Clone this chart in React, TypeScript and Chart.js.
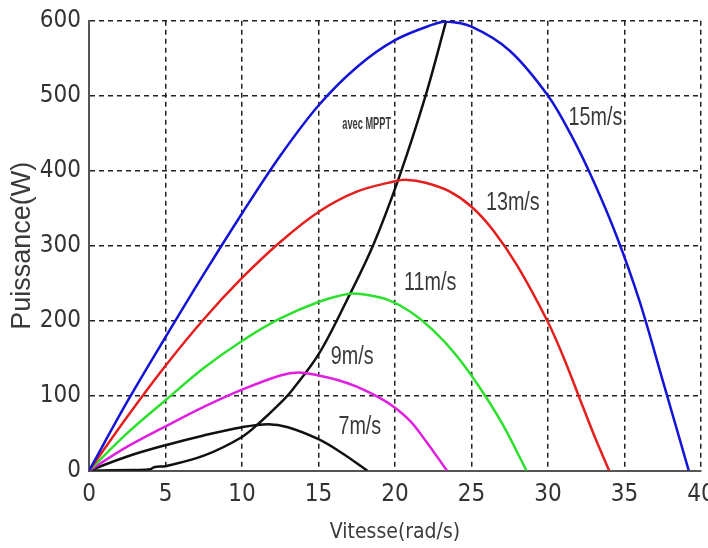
import React, { useEffect, useRef } from "react";
import { Chart, registerables } from "chart.js";

Chart.register(...registerables);

// ---- data ----
const speed15 = [0, 2.5, 5, 7.5, 10, 12.5, 15, 17.5, 20, 22.5, 23.35, 25, 27.5, 30, 31.5, 33, 34.5, 36, 37.5, 39.2];
const power15 = [0, 92, 178, 262, 343, 420, 487, 538, 574, 595, 599, 592, 560, 500, 448, 385, 312, 225, 120, 0];

const speed13 = [0, 2.5, 5, 7.5, 10, 12.5, 15, 17.5, 20, 20.7, 22, 23.5, 25, 26.4, 28, 30, 31, 32, 33, 34];
const power13 = [0, 72, 140, 202, 257, 305, 345, 372, 386, 388, 384, 373, 352, 321, 273, 198, 152, 100, 48, 0];

const speed11 = [0, 2.5, 5, 7.5, 10, 12.5, 15, 17, 18, 19.5, 21, 22.5, 24, 25.5, 27, 28.6];
const power11 = [0, 50, 94, 137, 173, 203, 225, 236, 235, 228, 212, 187, 154, 112, 63, 0];

const speed9 = [0, 2.5, 5, 7.5, 10, 12.5, 13.7, 15, 16.25, 17.5, 19, 20, 21, 22, 23.4];
const power9 = [0, 32, 59, 85, 108, 127, 131, 127, 121, 112, 97, 84, 66, 40, 0];

const speed7 = [0, 2.5, 5, 7.5, 10, 11.7, 13, 15, 16.5, 18.2];
const power7 = [0, 19, 34, 47, 58, 62, 58, 42, 24, 0];

const speedMppt = [0, 3, 4, 4.3, 5, 7.5, 10, 11.2, 12.5, 13.3, 15, 16.8, 18.6, 20.3, 22, 23.35];
const powerMppt = [0, 1, 2, 5, 6, 20, 45, 65, 90, 108, 155, 225, 302, 393, 500, 600];

const curveLabels = ["15m/s", "13m/s", "11m/s", "9m/s", "7m/s", "avec MPPT"];
const labelX = [33.1, 27.7, 22.3, 17.2, 17.7, 18.15];
const labelY = [470, 357, 250, 152, 58, 461];

const NARROW = '"Liberation Sans Narrow", "Arial Narrow", "DejaVu Sans Condensed", "Liberation Sans", sans-serif';
const SANS = '"Liberation Sans", Arial, Helvetica, sans-serif';

const pts = (xs: number[], ys: number[]) => xs.map((x, i) => ({ x, y: ys[i] }));

const labelPlugin = {
  id: "curveLabels",
  afterDatasetsDraw(chart: any) {
    const { ctx, scales } = chart;
    curveLabels.forEach((t, i) => {
      const small = i === curveLabels.length - 1;
      ctx.save();
      ctx.fillStyle = "#3a3a3a";
      ctx.textAlign = "center";
      ctx.textBaseline = "middle";
      ctx.translate(scales.x.getPixelForValue(labelX[i]), scales.y.getPixelForValue(labelY[i]));
      if (small) {
        ctx.scale(0.66, 1.15);
        ctx.font = `bold 14px ${SANS}`;
      } else {
        ctx.scale(0.76, 1);
        ctx.font = `26px ${SANS}`;
      }
      ctx.fillText(t, 0, 0);
      ctx.restore();
    });
  },
};

const noPad = (s: any) => {
  s.paddingLeft = 0;
  s.paddingRight = 0;
  s.paddingTop = 0;
  s.paddingBottom = 0;
};

export default function App() {
  const ref = useRef<HTMLCanvasElement>(null);
  useEffect(() => {
    document.body.style.margin = "0";
    const mk = (label: string, xs: number[], ys: number[], color: string) => ({
      label,
      data: pts(xs, ys),
      borderColor: color,
      backgroundColor: color,
      borderWidth: 2.5,
      pointRadius: 0,
      tension: 0.35,
      fill: false,
    });
    const chart = new Chart(ref.current!, {
      type: "line",
      data: {
        datasets: [
          mk("15m/s", speed15, power15, "#1414d8"),
          mk("13m/s", speed13, power13, "#e51e1e"),
          mk("11m/s", speed11, power11, "#2ee02e"),
          mk("9m/s", speed9, power9, "#e020e0"),
          mk("7m/s", speed7, power7, "#111111"),
          mk("avec MPPT", speedMppt, powerMppt, "#111111"),
        ],
      },
      plugins: [labelPlugin],
      options: {
        responsive: false,
        animation: false,
        layout: { padding: { left: 0, top: 20.7, right: 7, bottom: 0 } },
        plugins: { legend: { display: false }, tooltip: { enabled: false } },
        scales: {
          x: {
            type: "linear",
            min: 0,
            max: 40,
            afterFit: (s: any) => { s.height = 548 - 470.7; noPad(s); },
            ticks: { stepSize: 5, color: "#333", padding: 10, font: { family: NARROW, size: 24 } },
            grid: { color: "#222", lineWidth: 1.5, drawTicks: false },
            border: { color: "#555", width: 2, dash: [5, 4] },
            title: { display: true, text: "Vitesse(rad/s)", color: "#3a3a3a", padding: { top: 0, bottom: 3 }, font: { family: NARROW, size: 21 } },
          },
          y: {
            type: "linear",
            min: 0,
            max: 600,
            afterFit: (s: any) => { s.width = 89; noPad(s); },
            ticks: { stepSize: 100, color: "#333", padding: 8, font: { family: NARROW, size: 24 } },
            grid: { color: "#222", lineWidth: 1.5, drawTicks: false },
            border: { color: "#555", width: 2, dash: [5, 4] },
            title: { display: true, text: "Puissance(W)", color: "#3a3a3a", padding: { top: 6, bottom: 0 }, font: { family: SANS, size: 27 } },
          },
        },
      },
    });
    return () => chart.destroy();
  }, []);
  return (
    <div style={{ width: 708, height: 548, background: "#fff" }}>
      <canvas ref={ref} width={708} height={548} />
    </div>
  );
}
